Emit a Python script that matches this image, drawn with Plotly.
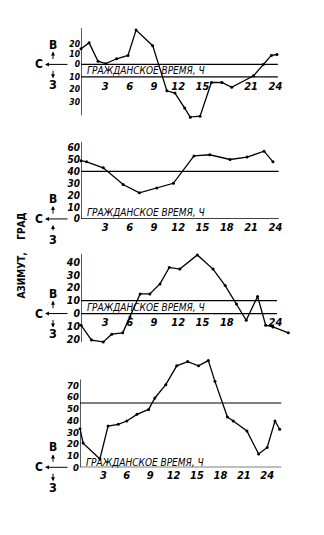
import plotly.graph_objects as go

# ---------------- data ----------------
p1_hours = [0, 1.0, 2.1, 3.05, 4.4, 5.8, 6.8, 8.85, 10.6, 11.6, 12.8, 13.5, 14.7, 16.1, 17.4, 18.6, 21.3, 22.5, 23.5, 24.2]
p1_az = [15, 20.7, 3.1, 0.7, 5.4, 8.6, 33, 18, -25.4, -27.6, -42, -50.8, -49.8, -17.4, -17.4, -22, -11, 0, 8.6, 9.5]

p2_hours = [0, 0.7, 2.75, 5.2, 7.2, 9.35, 11.4, 13.95, 15.9, 18.4, 20.5, 22.6, 23.7]
p2_az = [49, 48, 43, 29, 22, 26, 30, 53, 54, 50, 52, 57, 48]

p3_hours = [0, 1.3, 2.75, 3.8, 5.15, 6.05, 7.3, 8.5, 9.75, 10.9, 12.2, 14.36, 16.3, 17.8, 19.2, 20.4, 21.8, 22.8, 23.7, 25.6]
p3_az = [-9, -20.6, -22, -16, -15, -2.7, 15.2, 15.2, 23, 35.8, 34.5, 45.5, 34.5, 21.7, 7.5, -5.2, 13.2, -9, -10.4, -15]

p4_hours = [0, 0.4, 2.55, 3.6, 4.9, 6.0, 7.3, 8.8, 9.6, 11.0, 12.4, 13.8, 15.2, 16.45, 17.3, 18.9, 19.65, 21.4, 22.9, 24.0, 25.0, 25.6]
p4_az = [33, 20.7, 7.1, 35.3, 36.8, 39.6, 45.3, 49.5, 59.3, 70.7, 86.8, 90.4, 86.8, 91.3, 73.5, 43, 39.6, 31, 11.4, 17, 39.6, 32.5]

p1_xticks = [3, 6, 9, 12, 15, 21, 24]
p2_xticks = [3, 6, 9, 12, 15, 18, 21, 24]
p3_xticks = [3, 6, 9, 12, 15, 18, 24]
p4_xticks = [3, 6, 9, 12, 15, 18, 21, 24]

p1_yticks = [20, 10, 0, -12, -24, -36]
p1_ytext = ["20", "10", "0", "10", "20", "30"]
p2_yticks = [60, 50, 40, 30, 20, 10, 0]
p3_yticks = [40, 30, 20, 10, 0, -10, -20]
p3_ytext = ["40", "30", "20", "10", "0", "10", "20"]
p4_yticks = [70, 60, 50, 40, 30, 20, 10, 0]

p1_lines = [0, -12]   # band of the time axis
p2_lines = [40, 0]
p3_lines = [10, 0]
p4_lines = [55, 0]

xtitle = "ГРАЖДАНСКОЕ ВРЕМЯ, Ч"
ytitle = "АЗИМУТ,    ГРАД"

# ---------------- layout geometry ----------------
W, H = 324, 535
RIGHT = 292

def yp(py):
    return 1 - py / H

def xp(px):
    return px / W

panels = [
    dict(h=p1_hours, a=p1_az, zero=65, ppu=1.05, ymin=-51, ymax=35, axbot=-49, axtop=35,
         x0=81, pph=8.1, xt=p1_xticks, yt=p1_yticks, ytt=p1_ytext, lines=p1_lines,
         line_end=24.3, xaxis_at=-13, title_y=-6, yfs=8.5),
    dict(h=p2_hours, a=p2_az, zero=221, ppu=1.2, ymin=0, ymax=65, axbot=0, axtop=65,
         x0=81, pph=8.1, xt=p2_xticks, yt=p2_yticks, ytt=[str(v) for v in p2_yticks], lines=p2_lines,
         line_end=24.4, xaxis_at=0, title_y=5, yfs=10),
    dict(h=p3_hours, a=p3_az, zero=316.5, ppu=1.3, ymin=-23, ymax=46.5, axbot=-22, axtop=46.5,
         x0=81, pph=8.1, xt=p3_xticks, yt=p3_yticks, ytt=p3_ytext, lines=p3_lines,
         line_end=24.2, xaxis_at=0, title_y=5, yfs=10.5),
    dict(h=p4_hours, a=p4_az, zero=471.7, ppu=1.18, ymin=0, ymax=93, axbot=0, axtop=75,
         x0=80, pph=7.8, xt=p4_xticks, yt=p4_yticks, ytt=[str(v) for v in p4_yticks], lines=p4_lines,
         line_end=25.8, xaxis_at=0, title_y=4, yfs=9.5),
]

FONT = "DejaVu Sans Condensed"

def tickfont(size):
    return dict(family=FONT, size=size, color="black", weight="bold", style="italic")

fig = go.Figure()
shapes = []
annotations = []

for i, p in enumerate(panels, start=1):
    sx = "" if i == 1 else str(i)
    xref, yref = "x" + sx, "y" + sx
    top_px = p["zero"] - p["ymax"] * p["ppu"]
    bot_px = p["zero"] - p["ymin"] * p["ppu"]
    xmax = (RIGHT - p["x0"]) / p["pph"]

    fig.add_trace(go.Scatter(
        x=p["h"], y=p["a"], xaxis=xref, yaxis=yref, mode="lines+markers",
        line=dict(color="black", width=1.3), marker=dict(color="black", size=3),
        showlegend=False, cliponaxis=False, hoverinfo="skip"))

    axis_px = p["zero"] - p["xaxis_at"] * p["ppu"]
    fig.layout["xaxis" + sx] = dict(
        domain=[xp(p["x0"]), xp(RIGHT)], range=[0, xmax], anchor="free",
        position=yp(axis_px), showgrid=False, zeroline=False, showline=False,
        tickvals=p["xt"], ticktext=[str(v) for v in p["xt"]], tickfont=tickfont(11),
        ticks="", fixedrange=True)
    fig.layout["yaxis" + sx] = dict(
        domain=[yp(bot_px), yp(top_px)], range=[p["ymin"], p["ymax"]],
        anchor=xref, showgrid=False, zeroline=False, showline=False,
        tickvals=p["yt"], ticktext=p["ytt"], tickfont=tickfont(p["yfs"]), ticks="",
        fixedrange=True)

    # vertical axis line
    shapes.append(dict(type="line", xref=xref, yref=yref, x0=0, x1=0,
                       y0=p["axbot"], y1=p["axtop"], line=dict(color="black", width=1.3)))
    # horizontal reference lines
    for lv in p["lines"]:
        shapes.append(dict(type="line", xref=xref, yref=yref, x0=0, x1=p["line_end"],
                           y0=lv, y1=lv, line=dict(color="black", width=1.2)))
    # axis title
    annotations.append(dict(text=xtitle, xref=xref, yref=yref, x=0.45, y=p["title_y"],
                            xanchor="left", yanchor="middle", showarrow=False,
                            font=dict(family=FONT, size=10, color="black", style="italic")))

    # compass cross: В up, З down, С left
    zpy = p["zero"]
    cx = 53
    letterfont = dict(family=FONT, size=12, color="black", weight="bold")
    annotations.append(dict(text="В", xref="paper", yref="paper", x=xp(cx), y=yp(zpy - 20),
                            showarrow=False, font=letterfont, xanchor="center", yanchor="middle"))
    annotations.append(dict(text="З", xref="paper", yref="paper", x=xp(cx), y=yp(zpy + 21),
                            showarrow=False, font=letterfont, xanchor="center", yanchor="middle"))
    annotations.append(dict(text="С", xref="paper", yref="paper", x=xp(39), y=yp(zpy),
                            showarrow=False, font=letterfont, xanchor="center", yanchor="middle"))
    # horizontal arrow to the left
    annotations.append(dict(text="", xref="paper", yref="paper", x=xp(45), y=yp(zpy),
                            ax=24, ay=0, showarrow=True, arrowhead=2, arrowsize=0.8,
                            arrowwidth=1, arrowcolor="black"))
    # up arrow
    annotations.append(dict(text="", xref="paper", yref="paper", x=xp(cx), y=yp(zpy - 13),
                            ax=0, ay=9, showarrow=True, arrowhead=2, arrowsize=0.8,
                            arrowwidth=1, arrowcolor="black"))
    # down arrow (panel 2 has it drawn upward)
    if i == 2:
        annotations.append(dict(text="", xref="paper", yref="paper", x=xp(cx), y=yp(zpy + 6),
                                ax=0, ay=7, showarrow=True, arrowhead=2, arrowsize=0.8,
                                arrowwidth=1, arrowcolor="black"))
    else:
        annotations.append(dict(text="", xref="paper", yref="paper", x=xp(cx), y=yp(zpy + 14),
                                ax=0, ay=-9, showarrow=True, arrowhead=2, arrowsize=0.8,
                                arrowwidth=1, arrowcolor="black"))

annotations.append(dict(text=ytitle, xref="paper", yref="paper", x=xp(22), y=yp(258),
                        textangle=-90, showarrow=False,
                        font=dict(family=FONT, size=10, color="black", weight="bold"),
                        xanchor="center", yanchor="middle"))

fig.update_layout(width=W, height=H, margin=dict(l=0, r=0, t=0, b=0),
                  paper_bgcolor="white", plot_bgcolor="white",
                  shapes=shapes, annotations=annotations, showlegend=False)

fig.write_html("out.html", config={"displayModeBar": False})
